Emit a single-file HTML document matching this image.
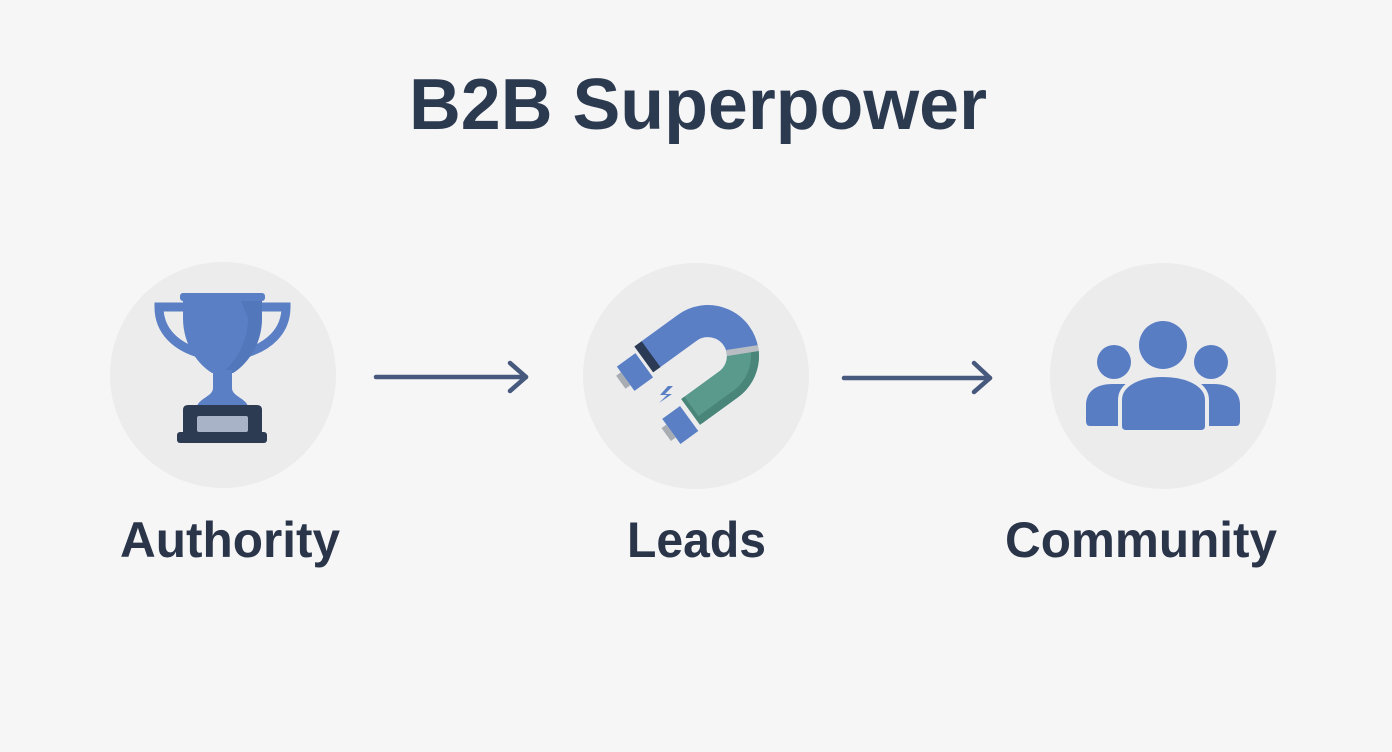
<!DOCTYPE html>
<html>
<head>
<meta charset="utf-8">
<style>
  html, body { margin: 0; padding: 0; background: #f6f6f7; }
  body { width: 1392px; height: 752px; overflow: hidden; }
  svg { display: block; }
  text { font-family: "Liberation Sans", "DejaVu Sans", sans-serif; fill: #2b3549; }
</style>
</head>
<body>
<svg width="1392" height="752" viewBox="0 0 1392 752" xmlns="http://www.w3.org/2000/svg">
  <rect x="0" y="0" width="1392" height="752" fill="#f6f6f7"/>

  <!-- Title -->
  <text x="409" y="129" font-size="72" font-weight="bold" textLength="578" lengthAdjust="spacingAndGlyphs" style="fill:#2c3a50">B2B Superpower</text>

  <!-- Circles -->
  <circle cx="223" cy="375" r="113" fill="#ececed"/>
  <circle cx="696" cy="376" r="113" fill="#ececed"/>
  <circle cx="1163" cy="376" r="113" fill="#ececed"/>

  <!-- Arrows -->
  <g stroke="#47597d" stroke-width="4.5" stroke-linecap="round" stroke-linejoin="round" fill="none">
    <line x1="376" y1="377" x2="526" y2="377"/>
    <polyline points="510,363 526,377 510,391"/>
    <line x1="844" y1="378" x2="990" y2="378"/>
    <polyline points="974,363 990,378 974,392"/>
  </g>

  <!-- Trophy -->
  <g>
    <path d="M186 307 L159 307 C159 331 176 347 202 354" stroke="#5a7fc4" stroke-width="9" fill="none"/>
    <path d="M259 307 L286 307 C286 331 269 347 243 354" stroke="#5a7fc4" stroke-width="9" fill="none"/>
    <path d="M183 299 L262 299 L262 318 C262 346 246 365 233 373 L212 373 C199 365 183 346 183 318 Z" fill="#5a7fc4"/>
    <path d="M240 299 L262 299 L262 318 C262 346 246 365 233 373 L222 373 C238 360 248 340 248 318 Z" fill="#5074b8" opacity="0.7"/>
    <rect x="180" y="293" width="85" height="8" rx="3" fill="#5a7fc4"/>
    <path d="M213 370 L232 370 L232 388 C232 396 245 398 248 406 L197 406 C200 398 213 396 213 388 Z" fill="#5a7fc4"/>
    <path d="M183 410 Q183 405 188 405 L257 405 Q262 405 262 410 L262 436 L183 436 Z" fill="#2c3a52"/>
    <rect x="177" y="432" width="90" height="11" rx="3" fill="#2c3a52"/>
    <rect x="197" y="416" width="51" height="16" rx="2" fill="#a8b3c7"/>
  </g>

  <!-- Magnet -->
  <g transform="translate(708 356) rotate(-36)">
    <path d="M-46 -35 L0 -35 A35 35 0 0 1 31 16" stroke="#5a7fc4" stroke-width="32" fill="none"/>
    <path d="M31 16 A35 35 0 0 1 0 35 L-44 35" stroke="#5a9a8d" stroke-width="32" fill="none"/>
    <path d="M-44 47 L0 47 A47 47 0 0 0 41.9 21.3" stroke="#4a8579" stroke-width="8" fill="none"/>
    <path d="M16.9 8.6 L45.4 23.2" stroke="#b8bcc3" stroke-width="6"/>
    <rect x="-54" y="-51" width="9" height="32" fill="#2b3a55"/>
    <rect x="-80" y="-45" width="23" height="30" fill="#5a7fc4"/>
    <rect x="-86" y="-38" width="6" height="16" fill="#a8adb4"/>
    <rect x="-74" y="24" width="22" height="31" fill="#5a7fc4"/>
    <rect x="-80" y="31" width="6" height="16" fill="#a8adb4"/>
    <rect x="-47" y="19" width="4" height="32" fill="#4a8579"/>
  </g>
  <path d="M668 386 L660 395 L667 395 L659 403 L672 394 L665 394 L673 386 Z" fill="#5a7fc4"/>

  <!-- Community -->
  <g>
    <circle cx="1114" cy="362" r="17" fill="#587dc3"/>
    <circle cx="1211" cy="362" r="17" fill="#587dc3"/>
    <path d="M1086 421 L1086 405 C1086 391 1097 384 1112 384 L1140 384 L1140 426 L1090 426 Q1086 426 1086 421 Z" fill="#587dc3"/>
    <path d="M1240 421 L1240 405 C1240 391 1229 384 1214 384 L1186 384 L1186 426 L1236 426 Q1240 426 1240 421 Z" fill="#587dc3"/>
    <circle cx="1163" cy="345" r="24" fill="#587dc3"/>
    <path d="M1120 426 L1120 400 C1120 384 1140 375 1163 375 C1186 375 1207 384 1207 400 L1207 426 Q1207 432 1201 432 L1126 432 Q1120 432 1120 426 Z" fill="#587dc3" stroke="#ececed" stroke-width="4"/>
  </g>

  <!-- Labels -->
  <text x="120" y="557" font-size="50" font-weight="bold" textLength="220" lengthAdjust="spacingAndGlyphs">Authority</text>
  <text x="627" y="557" font-size="50" font-weight="bold" textLength="139" lengthAdjust="spacingAndGlyphs">Leads</text>
  <text x="1005" y="557" font-size="50" font-weight="bold" textLength="272" lengthAdjust="spacingAndGlyphs">Community</text>
</svg>
</body>
</html>
